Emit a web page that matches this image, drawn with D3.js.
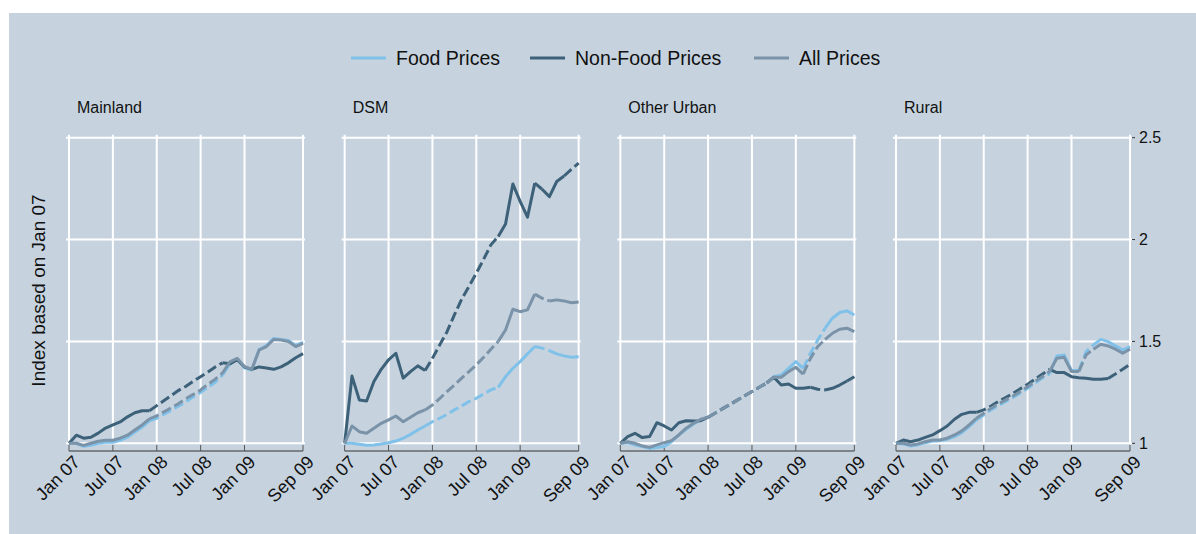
<!DOCTYPE html>
<html>
<head>
<meta charset="utf-8">
<script src="https://cdn.jsdelivr.net/npm/d3@7"></script>
<style>
  body { margin: 0; background: #ffffff; }
  svg text { font-family: "Liberation Sans", Arial, Helvetica, sans-serif; fill: #111; }
</style>
</head>
<body>
<div id="chart"></div>
<script>
// Panels, series and axis labels
var regions = ["Mainland", "DSM", "Other Urban", "Rural"];
var seriesNames = ["Food Prices", "Non-Food Prices", "All Prices"];
var tickMonths = [0, 6, 12, 18, 24, 32];
var tickLabels = ["Jan 07", "Jul 07", "Jan 08", "Jul 08", "Jan 09", "Sep 09"];
var yTicks = [1, 1.5, 2, 2.5];

// Monthly index, Jan 07 .. Sep 09 (33 months)
var mainlandFood = [1.00, 1.00, 0.985, 0.99, 1.00, 1.005, 1.005, 1.015, 1.03, 1.055, 1.08, 1.11,
  1.123, 1.143, 1.163, 1.183, 1.205, 1.228, 1.25, 1.275, 1.30, 1.335,
  1.39, 1.415, 1.37, 1.36, 1.46, 1.48, 1.515, 1.51, 1.505, 1.48, 1.495];
var mainlandNonFood = [1.00, 1.04, 1.025, 1.03, 1.05, 1.075, 1.09, 1.105, 1.13, 1.15, 1.16, 1.16,
  1.185, 1.21, 1.235, 1.26, 1.28, 1.305, 1.327, 1.35, 1.375, 1.395,
  1.39, 1.41, 1.375, 1.363, 1.375, 1.37, 1.363, 1.375, 1.395, 1.42, 1.44];
var mainlandAll = [1.00, 1.00, 0.99, 1.00, 1.01, 1.015, 1.015, 1.025, 1.04, 1.065, 1.09, 1.12,
  1.135, 1.155, 1.175, 1.195, 1.22, 1.24, 1.262, 1.29, 1.315, 1.345,
  1.40, 1.417, 1.376, 1.363, 1.458, 1.475, 1.51, 1.507, 1.50, 1.475, 1.49];

var dsmFood = [1.00, 1.00, 0.995, 0.99, 0.992, 0.997, 1.003, 1.011, 1.025, 1.044, 1.065, 1.085,
  1.106, 1.123, 1.142, 1.164, 1.183, 1.205, 1.221, 1.242, 1.262, 1.275,
  1.327, 1.368, 1.401, 1.439, 1.475, 1.467, 1.455, 1.439, 1.429, 1.422, 1.425];
var dsmNonFood = [1.00, 1.33, 1.213, 1.208, 1.303, 1.363, 1.41, 1.442, 1.32, 1.352, 1.38, 1.357,
  1.417, 1.483, 1.548, 1.63, 1.707, 1.77, 1.835, 1.903, 1.974, 2.015,
  2.077, 2.273, 2.187, 2.11, 2.277, 2.247, 2.211, 2.285, 2.312, 2.345, 2.375];
var dsmAll = [1.00, 1.085, 1.057, 1.049, 1.074, 1.098, 1.115, 1.134, 1.106, 1.128, 1.15, 1.164,
  1.188, 1.22, 1.254, 1.286, 1.32, 1.352, 1.385, 1.422, 1.462, 1.50,
  1.556, 1.658, 1.646, 1.655, 1.732, 1.712, 1.699, 1.704, 1.699, 1.69, 1.694];

var urbanFood = [1.00, 1.003, 0.992, 0.984, 0.975, 0.979, 0.984, 1.008, 1.041, 1.069, 1.095, 1.115,
  1.128, 1.149, 1.17, 1.191, 1.212, 1.233, 1.254, 1.275, 1.296,
  1.327, 1.335, 1.368, 1.401, 1.368, 1.442, 1.507, 1.565, 1.614, 1.642, 1.65, 1.63];
var urbanNonFood = [1.00, 1.033, 1.049, 1.028, 1.033, 1.101, 1.085, 1.065, 1.101, 1.111, 1.11, 1.111,
  1.128, 1.149, 1.17, 1.191, 1.212, 1.233, 1.254, 1.275, 1.296,
  1.324, 1.286, 1.291, 1.27, 1.27, 1.275, 1.265, 1.262, 1.27, 1.286, 1.306, 1.327];
var urbanAll = [1.00, 1.008, 1.00, 0.987, 0.98, 0.992, 1.003, 1.013, 1.041, 1.074, 1.098, 1.118,
  1.128, 1.149, 1.17, 1.191, 1.212, 1.233, 1.254, 1.275, 1.296,
  1.324, 1.324, 1.352, 1.373, 1.34, 1.417, 1.475, 1.51, 1.54, 1.56, 1.565, 1.548];

var ruralFood = [1.00, 0.997, 0.987, 0.992, 1.003, 1.011, 1.013, 1.02, 1.033, 1.052, 1.082, 1.115,
  1.139, 1.164, 1.185, 1.205, 1.225, 1.247, 1.27, 1.295, 1.32, 1.34,
  1.429, 1.434, 1.357, 1.357, 1.45, 1.483, 1.51, 1.499, 1.478, 1.458, 1.475];
var ruralNonFood = [1.00, 1.016, 1.008, 1.016, 1.029, 1.041, 1.062, 1.085, 1.118, 1.142, 1.152, 1.152,
  1.164, 1.183, 1.205, 1.224, 1.245, 1.268, 1.29, 1.314, 1.339, 1.363,
  1.347, 1.347, 1.327, 1.322, 1.319, 1.314, 1.314, 1.318, 1.34, 1.363, 1.388];
var ruralAll = [1.00, 1.00, 0.992, 0.997, 1.008, 1.016, 1.016, 1.025, 1.041, 1.061, 1.09, 1.123,
  1.147, 1.172, 1.193, 1.213, 1.232, 1.254, 1.278, 1.303, 1.327, 1.352,
  1.417, 1.422, 1.352, 1.352, 1.434, 1.462, 1.486, 1.478, 1.462, 1.442, 1.462];

// Month ranges that are estimated (drawn dashed), per series: food, non-food, all
var mainlandEstimated = [[[11, 21]], [[11, 21]], [[11, 21]]];
var dsmEstimated = [[[11, 21], [26, 28]], [[11, 21], [26, 27], [30, 32]], [[11, 21], [26, 28]]];
var urbanEstimated = [[[12, 20], [25, 28]], [[12, 20], [26, 28], [31, 32]], [[12, 20], [25, 28]]];
var ruralEstimated = [[[11, 21], [25, 27]], [[11, 21], [29, 32]], [[11, 21], [25, 27]]];

var panelValues = [
  [mainlandFood, mainlandNonFood, mainlandAll],
  [dsmFood, dsmNonFood, dsmAll],
  [urbanFood, urbanNonFood, urbanAll],
  [ruralFood, ruralNonFood, ruralAll]
];
var panelEstimated = [mainlandEstimated, dsmEstimated, urbanEstimated, ruralEstimated];

var colors = ["#80c1ea", "#3c6179", "#7a93a8"];

var svgWidth = 1196;
var svgHeight = 534;
var panelWidth = 234;
var plotTop = 137.7;
var plotBottom = 443.3;

var svg = d3.select("#chart")
  .append("svg")
  .attr("width", svgWidth)
  .attr("height", svgHeight);

// Plot background
svg.append("rect")
  .attr("x", 9)
  .attr("y", 13)
  .attr("width", svgWidth - 9)
  .attr("height", svgHeight - 13)
  .attr("fill", "#c6d3df");

var panelX = d3.scalePoint().domain(regions).range([69, 896]);
var yScale = d3.scaleLinear().domain([1, 2.5]).range([plotBottom, plotTop]);
var xScale = d3.scaleLinear().domain([0, 32]).range([0, panelWidth]);

var line = d3.line()
  .x(d => xScale(d.m))
  .y(d => yScale(d.v));

// Split a series into solid / dashed runs
function splitRuns(values, estimated) {
  var runs = [];
  for (var i = 0; i < values.length - 1; i++) {
    var dashed = estimated.some(r => i >= r[0] && i + 1 <= r[1]);
    var last = runs[runs.length - 1];
    if (!last || last.dashed !== dashed) {
      last = {dashed: dashed, points: [{m: i, v: values[i]}]};
      runs.push(last);
    }
    last.points.push({m: i + 1, v: values[i + 1]});
  }
  return runs;
}

regions.forEach(function(region, p) {
  var g = svg.append("g")
    .attr("transform", `translate(${panelX(region)}, 0)`);

  // horizontal grid
  g.selectAll(".hgrid")
    .data(yTicks)
    .enter()
    .append("line")
    .attr("x1", -3)
    .attr("x2", panelWidth + 2)
    .attr("y1", d => yScale(d))
    .attr("y2", d => yScale(d))
    .attr("stroke", "#ffffff")
    .attr("stroke-width", 2);

  // vertical grid
  g.selectAll(".vgrid")
    .data(tickMonths)
    .enter()
    .append("line")
    .attr("x1", d => xScale(d))
    .attr("x2", d => xScale(d))
    .attr("y1", plotTop - 3)
    .attr("y2", plotBottom)
    .attr("stroke", "#ffffff")
    .attr("stroke-width", 2);

  // bottom axis
  g.append("line")
    .attr("x1", 0)
    .attr("x2", panelWidth)
    .attr("y1", 451)
    .attr("y2", 451)
    .attr("stroke", "#333")
    .attr("stroke-width", 1);

  g.selectAll(".tick")
    .data(tickMonths)
    .enter()
    .append("line")
    .attr("x1", d => xScale(d))
    .attr("x2", d => xScale(d))
    .attr("y1", 445)
    .attr("y2", 451)
    .attr("stroke", "#555")
    .attr("stroke-width", 1);

  g.selectAll(".ticklabel")
    .data(tickMonths)
    .enter()
    .append("text")
    .attr("transform", d => `translate(${xScale(d) + 3}, 454) rotate(-45)`)
    .attr("text-anchor", "end")
    .attr("dy", "0.72em")
    .attr("font-size", "18px")
    .text((d, i) => tickLabels[i]);

  // panel title
  g.append("text")
    .attr("x", 8)
    .attr("y", 113)
    .attr("font-size", "16px")
    .text(region);

  // series lines
  panelValues[p].forEach(function(values, s) {
    var runs = splitRuns(values, panelEstimated[p][s]);
    g.selectAll(null)
      .data(runs)
      .enter()
      .append("path")
      .attr("d", d => line(d.points))
      .attr("fill", "none")
      .attr("stroke", colors[s])
      .attr("stroke-width", 3)
      .attr("stroke-linejoin", "round")
      .attr("stroke-dasharray", d => d.dashed ? "10,4" : null);
  });

  // right axis on the last panel
  if (p === regions.length - 1) {
    g.selectAll(".rtick")
      .data(yTicks)
      .enter()
      .append("line")
      .attr("x1", panelWidth + 2)
      .attr("x2", panelWidth + 5)
      .attr("y1", d => yScale(d))
      .attr("y2", d => yScale(d))
      .attr("stroke", "#333")
      .attr("stroke-width", 1);

    g.selectAll(".rlabel")
      .data(yTicks)
      .enter()
      .append("text")
      .attr("x", panelWidth + 9)
      .attr("y", d => yScale(d))
      .attr("dy", "0.35em")
      .attr("font-size", "16px")
      .text(d => d3.format("~g")(d));
  }
});

// Y axis title
svg.append("text")
  .attr("transform", `translate(45, ${(plotTop + plotBottom) / 2}) rotate(-90)`)
  .attr("text-anchor", "middle")
  .attr("font-size", "19px")
  .text("Index based on Jan 07");

// Legend
var legendX = [351, 530, 754];
var legend = svg.selectAll(".legend")
  .data(seriesNames)
  .enter()
  .append("g")
  .attr("transform", (d, i) => `translate(${legendX[i]}, 58)`);

legend.append("line")
  .attr("x1", 0)
  .attr("x2", 35)
  .attr("stroke", (d, i) => colors[i])
  .attr("stroke-width", 3);

legend.append("text")
  .attr("x", 45)
  .attr("dy", "0.35em")
  .attr("font-size", "19.5px")
  .text(d => d);
</script>
</body>
</html>
